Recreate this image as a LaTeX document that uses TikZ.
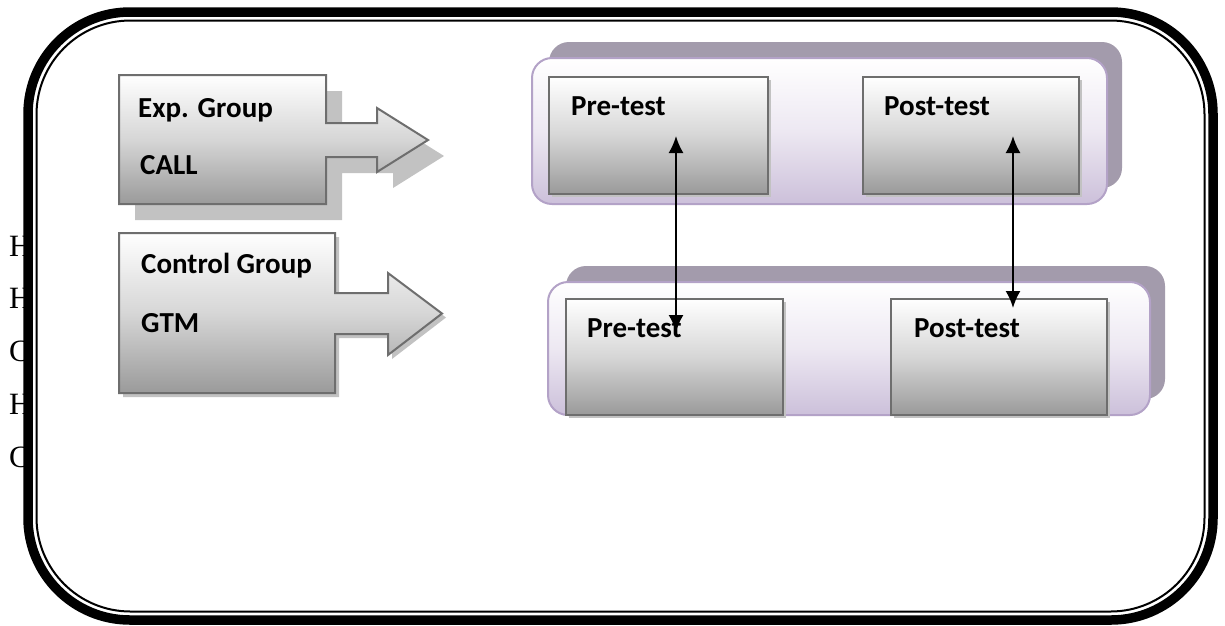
\documentclass[tikz,border=0pt]{standalone}
\usepackage{fontspec}
\setmainfont{Carlito}
\newfontfamily\lserif{Liberation Serif}
\usetikzlibrary{arrows.meta}
\definecolor{boxborder}{HTML}{6E6E6E}
\definecolor{boxmid}{HTML}{D6D6D6}
\definecolor{boxbot}{HTML}{9A9A9A}
\definecolor{shadowgray}{HTML}{C2C2C2}
\definecolor{contborder}{HTML}{B3A2C7}
\definecolor{contmid}{HTML}{EDE8F2}
\definecolor{contbot}{HTML}{CCC0DA}
\definecolor{contshadow}{HTML}{A39BAC}
\tikzset{
  sletter/.style={anchor=base west, inner sep=0pt, font=\lserif\fontsize{31}{36}\selectfont},
  txt/.style={anchor=base west, inner sep=0pt, font=\bfseries\fontsize{29}{34}\selectfont},
  gbox/.style={draw=boxborder, line width=2pt, anchor=north west, inner sep=0pt,
    top color=white, bottom color=boxbot, middle color=boxmid},
  gshape/.style={draw=boxborder, line width=2pt,
    top color=white, bottom color=boxbot, middle color=boxmid},
  cont/.style={draw=contborder, line width=2pt, rounded corners=20pt,
    top color=white, bottom color=contbot, middle color=contmid},
  contshad/.style={fill=contshadow, rounded corners=20pt},
  dblarrow/.style={line width=2pt, {Latex[length=17pt,width=15pt]}-{Latex[length=17pt,width=15pt]}}
}
\begin{document}
\begin{tikzpicture}[x=1pt,y=-1pt]
\useasboundingbox (0,0) rectangle (1225,625);
% letters behind the frame
\node[sletter] (l1) at (9,256) {H};
\node[sletter] (l2) at (9,308) {H};
\node[sletter] (l3) at (9,361) {C};
\node[sletter] (l4) at (9,414) {H};
\node[sletter] (l5) at (9,467) {C};
% frame
\draw[line width=9.5pt, fill=white, rounded corners=102pt] (28,12) rectangle (1213,620);
\draw[line width=2pt, rounded corners=94pt] (36.5,20.5) rectangle (1204.5,611.5);
% Exp. group arrow
\begin{scope}[shift={(16,16)}]
\fill[shadowgray] (119,75) -- (326,75) -- (326,123) -- (377,123) -- (377,108) -- (428,140) -- (377,172) -- (377,157) -- (326,157) -- (326,204) -- (119,204) -- cycle;
\end{scope}
\shadedraw[gshape] (119,75) -- (326,75) -- (326,123) -- (377,123) -- (377,108) -- (428,140) -- (377,172) -- (377,157) -- (326,157) -- (326,204) -- (119,204) -- cycle;
\node[txt] (exp) at (138,117) {Exp. Group};
\node[txt] (call) at (140,174) {CALL};
% Control group arrow
\begin{scope}[shift={(4,4)}]
\fill[shadowgray] (119,233) -- (335,233) -- (335,293) -- (388,293) -- (388,273) -- (442,313.5) -- (388,355) -- (388,334) -- (335,334) -- (335,393) -- (119,393) -- cycle;
\end{scope}
\shadedraw[gshape] (119,233) -- (335,233) -- (335,293) -- (388,293) -- (388,273) -- (442,313.5) -- (388,355) -- (388,334) -- (335,334) -- (335,393) -- (119,393) -- cycle;
\node[txt] (ctrl) at (141,273) {Control Group};
\node[txt] (gtm) at (141,332) {GTM};
% top container
\fill[contshad] (549,42) rectangle (1122,188);
\shadedraw[cont] (532,58) rectangle (1107,204);
\fill[shadowgray] (552,80) rectangle (771,197);
\node[gbox, minimum width=219pt, minimum height=117pt] (pre1) at (548,76) {};
\fill[shadowgray] (866,80) rectangle (1082,197);
\node[gbox, minimum width=216pt, minimum height=117pt] (post1) at (862,76) {};
\node[txt] (pre1t) at (571,115) {Pre-test};
\node[txt] (post1t) at (884,115) {Post-test};
% bottom container
\fill[contshad] (566,266) rectangle (1165,399);
\shadedraw[cont] (548,282) rectangle (1150,415);
\fill[shadowgray] (569,302) rectangle (786,418);
\node[gbox, minimum width=217pt, minimum height=116pt] (pre2) at (565,298) {};
\fill[shadowgray] (894,302) rectangle (1110,418);
\node[gbox, minimum width=216pt, minimum height=116pt] (post2) at (890,298) {};
\node[txt] (pre2t) at (587,337) {Pre-test};
\node[txt] (post2t) at (914,337) {Post-test};
% connectors
\coordinate (a1) at (676,136);
\coordinate (a2) at (676,332);
\coordinate (b1) at (1013,136);
\coordinate (b2) at (1013,308);
\draw[dblarrow] (a1) -- (a2);
\draw[dblarrow] (b1) -- (b2);
\end{tikzpicture}
\end{document}
